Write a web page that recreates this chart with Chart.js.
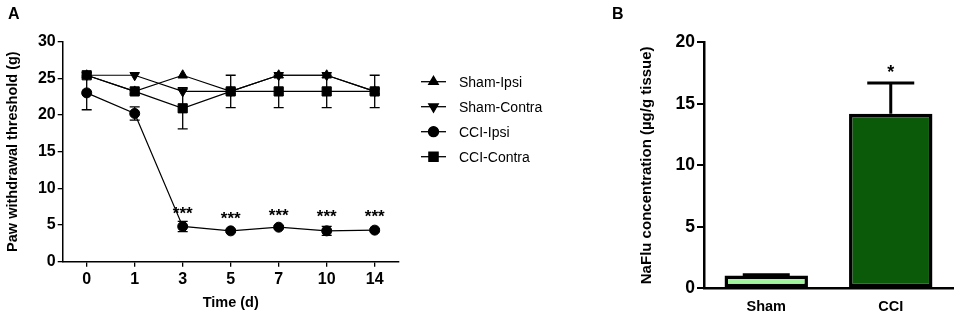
<!DOCTYPE html>
<html>
<head>
<meta charset="utf-8">
<script src="https://cdn.jsdelivr.net/npm/chart.js@4/dist/chart.umd.min.js"></script>
<style>
  body { margin: 0; background: #fff; }
  #wrap { position: relative; width: 957px; height: 318px; overflow: hidden; }
  canvas { position: absolute; top: 0; }
  #chartA { left: 0; }
  #chartB { left: 560px; }
  .panel { position: absolute; font: bold 16px 'Liberation Sans', Arial, sans-serif; }
</style>
</head>
<body>
<div id="wrap">
  <canvas id="chartA" width="560" height="318"></canvas>
  <canvas id="chartB" width="397" height="318"></canvas>
  <div class="panel" style="left:8px;top:5px;">A</div>
  <div class="panel" style="left:612px;top:5px;">B</div>
</div>
<script>
// Panel A: paw withdrawal threshold over time
const days = ['0', '1', '3', '5', '7', '10', '14'];
const shamIpsi = [25.4, 23.2, 25.4, 23.2, 25.4, 25.4, 23.2];
const shamContra = [25.4, 25.4, 23.2, 23.2, 25.4, 25.4, 23.2];
const cciIpsi = [23.0, 20.2, 4.8, 4.2, 4.7, 4.2, 4.3];
const cciContra = [25.4, 23.2, 20.9, 23.2, 23.2, 23.2, 23.2];
const shamIpsiErr = [0, 0, 0, 0, 0, 0, 0];
const shamContraErr = [0, 0, 0, 0, 0, 0, 0];
const cciIpsiErr = [2.3, 0.9, 0.7, 0.2, 0.2, 0.6, 0.2];
const cciContraErr = [0, 0, 2.8, 2.2, 2.2, 2.2, 2.2];
const starsA = ['', '', '***', '***', '***', '***', '***'];
const starLevelA = [null, null, 7.2, 6.5, 6.9, 6.8, 6.8];

// Panel B: NaFlu concentration
const groups = ['Sham', 'CCI'];
const nafluMean = [1.05, 14.2];
const nafluErr = [0.05, 2.5];
const starsB = ['', '*'];
const starLevelB = [null, 17.9];

const FONT = "'Liberation Sans', Arial, sans-serif";
Chart.defaults.font.family = FONT;
Chart.defaults.color = '#000';

// error bars (+ stars) drawn with the chart's own scales
const errorBars = {
  id: 'errorBars',
  afterDatasetsDraw(chart, args, opts) {
    const { ctx, scales: { x, y } } = chart;
    ctx.save();
    ctx.strokeStyle = '#000';
    ctx.lineWidth = opts.lineWidth;
    chart.data.datasets.forEach((ds, di) => {
      const meta = chart.getDatasetMeta(di);
      (ds.errors || []).forEach((e, i) => {
        if (!e) return;
        const px = meta.data[i].x;
        const top = y.getPixelForValue(ds.data[i] + e);
        const bot = opts.upOnly ? y.getPixelForValue(ds.data[i]) : y.getPixelForValue(ds.data[i] - e);
        ctx.beginPath();
        ctx.moveTo(px, top); ctx.lineTo(px, bot);
        ctx.moveTo(px - opts.cap, top); ctx.lineTo(px + opts.cap, top);
        if (!opts.upOnly) { ctx.moveTo(px - opts.cap, bot); ctx.lineTo(px + opts.cap, bot); }
        ctx.stroke();
      });
    });
    ctx.fillStyle = '#000';
    ctx.font = opts.starFont;
    ctx.textAlign = 'center';
    ctx.textBaseline = 'alphabetic';
    opts.stars.forEach((s, i) => {
      if (!s) return;
      ctx.fillText(s, x.getPixelForValue(i), y.getPixelForValue(opts.levels[i]) + 10);
    });
    ctx.restore();
  }
};

// legend with line + marker, from the datasets
const lineLegend = {
  id: 'lineLegend',
  afterDraw(chart) {
    const { ctx } = chart;
    ctx.save();
    chart.data.datasets.forEach((ds, i) => {
      const yy = 81.7 + i * 25;
      ctx.strokeStyle = '#000';
      ctx.lineWidth = 1.3;
      ctx.beginPath(); ctx.moveTo(421, yy); ctx.lineTo(446, yy); ctx.stroke();
      Chart.helpers.drawPoint(ctx, {
        pointStyle: ds.pointStyle, radius: ds.pointRadius, rotation: ds.pointRotation || 0,
        borderWidth: 1
      }, 433.5, yy);
      ctx.fillStyle = '#000';
      ctx.fill();
      ctx.font = '14px ' + FONT;
      ctx.textBaseline = 'middle';
      ctx.fillText(ds.label, 459, yy + 1);
    });
    ctx.restore();
  }
};

function series(label, data, errors, style, radius, rot) {
  return {
    label, data, errors,
    borderColor: '#000', borderWidth: 1.2,
    pointStyle: style, pointRadius: radius, pointRotation: rot || 0,
    pointBackgroundColor: '#000', pointBorderColor: '#000', pointBorderWidth: 1,
    tension: 0
  };
}

new Chart(document.getElementById('chartA'), {
  type: 'line',
  data: {
    labels: days,
    datasets: [
      series('Sham-Ipsi', shamIpsi, shamIpsiErr, 'triangle', 5.5),
      series('Sham-Contra', shamContra, shamContraErr, 'triangle', 5.5, 180),
      series('CCI-Ipsi', cciIpsi, cciIpsiErr, 'circle', 5),
      series('CCI-Contra', cciContra, cciContraErr, 'rect', 6.5)
    ]
  },
  options: {
    responsive: false,
    animation: false,
    layout: { padding: { top: 41.5, right: 161.3, bottom: 0, left: 0 } },
    plugins: {
      legend: { display: false },
      tooltip: { enabled: false },
      errorBars: { lineWidth: 1.3, cap: 5, upOnly: false, stars: starsA, levels: starLevelA, starFont: 'bold 17px ' + FONT }
    },
    scales: {
      x: {
        offset: true,
        grid: { drawOnChartArea: false, drawTicks: true, tickLength: 5, color: '#000', lineWidth: 1.3 },
        border: { color: '#000', width: 1.5 },
        ticks: { font: { size: 16, weight: 'bold' }, padding: 3, maxRotation: 0 },
        title: { display: true, text: 'Time (d)', font: { size: 14.5, weight: 'bold' }, padding: { top: 4, bottom: 6.3 } },
        afterFit: s => { s.height = 318 - 261.7; }
      },
      y: {
        min: 0, max: 30,
        grid: { drawOnChartArea: false, drawTicks: true, tickLength: 5, color: '#000', lineWidth: 1.3 },
        border: { color: '#000', width: 1.5 },
        ticks: { stepSize: 5, font: { size: 16, weight: 'bold' }, padding: 2 },
        title: { display: true, text: 'Paw withdrawal threshold (g)', font: { size: 14.5, weight: 'bold' }, padding: { top: 4.3, bottom: 4 } },
        afterFit: s => { s.width = 62.7; }
      }
    }
  },
  plugins: [errorBars, lineLegend]
});

new Chart(document.getElementById('chartB'), {
  type: 'bar',
  data: {
    labels: groups,
    datasets: [{
      data: nafluMean,
      errors: nafluErr,
      backgroundColor: ['#a2f59e', '#0a5a0a'],
      borderColor: '#000',
      borderWidth: 3.5,
      borderSkipped: false,
      barPercentage: 0.67,
      categoryPercentage: 1
    }]
  },
  options: {
    responsive: false,
    animation: false,
    layout: { padding: { top: 42.3, right: 4, bottom: 0, left: 0 } },
    plugins: {
      legend: { display: false },
      tooltip: { enabled: false },
      errorBars: { lineWidth: 3, cap: 23.5, upOnly: true, stars: starsB, levels: starLevelB, starFont: 'bold 18px ' + FONT }
    },
    scales: {
      x: {
        grid: { display: false },
        border: { color: '#000', width: 2.5 },
        ticks: { font: { size: 14.5, weight: 'bold' }, padding: 2 },
        afterFit: s => { s.height = 318 - 288.3; }
      },
      y: {
        min: 0, max: 20,
        grid: { drawOnChartArea: false, drawTicks: true, tickLength: 7, color: '#000', lineWidth: 2 },
        border: { color: '#000', width: 2.5 },
        ticks: { stepSize: 5, font: { size: 17.5, weight: 'bold' }, padding: 2 },
        title: { display: true, text: 'NaFlu concentration (µg/g tissue)', font: { size: 15, weight: 'bold' }, padding: { top: 77.7, bottom: 4 } },
        afterFit: s => { s.width = 144; }
      }
    }
  },
  plugins: [errorBars]
});
</script>
</body>
</html>
